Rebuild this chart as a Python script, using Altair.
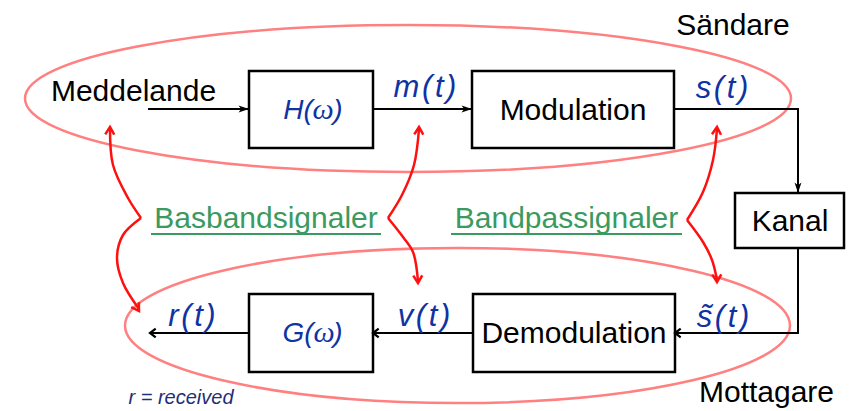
import altair as alt
import pandas as pd

# ---- coordinate frame (reference pixels) ----
W, H = 838, 395
XD = [8, 846]
YD = [8, 403]

# ---- blocks ----
box_name = ["H", "Modulation", "Kanal", "Demodulation", "G"]
box_x0 = [249, 472, 735, 473, 249]
box_x1 = [373, 674, 844, 675, 373]
box_y0 = [71, 71, 193, 294, 294]
box_y1 = [148, 148, 248, 372, 372]

# ---- wires ----
wire_x0 = [149, 373, 674, 798, 798, 798, 473, 249]
wire_y0 = [109, 109, 109, 109, 248, 333, 333, 333]
wire_x1 = [247, 470, 798, 798, 798, 677, 375, 152]
wire_y1 = [109, 109, 109, 191, 333, 333, 333, 333]

# ---- black arrowheads ----
head_x = [249, 472, 798]
head_y = [109, 109, 193]
head_ang = [0, 0, 90]
chev_x = [675, 373, 150]
chev_y = [333, 333, 333]
chev_ang = [180, 180, 180]

# ---- ellipses (Sändare / Mottagare groups) ----
ell_cx = [408, 457.5]
ell_cy = [98.5, 325.5]
ell_rx = [383, 332.5]
ell_ry = [73.5, 77.5]

# ---- red double arrows (read control points) ----
curve_id = ([0] * 4 + [1] * 5 + [2] * 4 + [3] * 4 + [4] * 4 + [5] * 4)
curve_x = [110, 113, 128, 141,
           141, 123, 117, 123, 139,
           419, 414, 402, 388,
           388, 403, 413, 418,
           717, 713, 703, 687,
           687, 703, 712, 717]
curve_y = [129, 165, 198, 218,
           218, 235, 258, 283, 309,
           129, 165, 195, 218,
           218, 237, 252, 281,
           129, 160, 192, 220,
           220, 242, 260, 280]
red_x = [110, 139, 419, 418, 717, 717]
red_y = [127, 311, 127, 283, 127, 282]
red_ang = [272, 58, 272, 88, 274, 88]

# ---- texts ----
blk_text = ["Meddelande", "Modulation", "Kanal", "Demodulation", "Sändare", "Mottagare"]
blk_x = [133.5, 573, 790, 574, 733, 766.5]
blk_y = [101, 120, 231, 343, 35, 402]

sig_text = ["m\u200a(\u200at\u200a)", "s\u200a(\u200at\u200a)", "r\u200a(\u200at\u200a)",
            "v\u200a(\u200at\u200a)", "s\u0303\u200a(\u200at\u200a)"]
sig_x = [425, 722, 192, 424, 723]
sig_y = [97, 98, 326, 326, 327]

fn_pre = ["H(", "G("]
fn_pre_x = [298, 298]
fn_om_x = [323, 324]
fn_post_x = [338, 338]
fn_y = [119, 342]

grn_text = ["Basbandsignaler", "Bandpassignaler"]
grn_x = [266, 566.5]
grn_y = [228, 228]
ul_x0 = [151, 451]
ul_x1 = [381, 682]
ul_y = [234, 234]

note_text = ["r = received"]
note_x = [181]
note_y = [404]

BLUE = "#0f33a3"
RED = "#ff1010"
PINK = "#ff8080"
GREEN = "#3a9a60"

xs = alt.Scale(domain=XD, nice=False, zero=False)
ys = alt.Scale(domain=YD, nice=False, zero=False, reverse=True)


def X(f="x"):
    return alt.X(f"{f}:Q", scale=xs, axis=None)


def Y(f="y"):
    return alt.Y(f"{f}:Q", scale=ys, axis=None)


def ellipse_path(b):
    k = 0.5523
    return (f"M -1 0 C -1 {-k*b:.4f} {-k:.4f} {-b:.4f} 0 {-b:.4f} "
            f"C {k:.4f} {-b:.4f} 1 {-k*b:.4f} 1 0 "
            f"C 1 {k*b:.4f} {k:.4f} {b:.4f} 0 {b:.4f} "
            f"C {-k:.4f} {b:.4f} -1 {k*b:.4f} -1 0 Z")


layers = []

# ellipses
for cx, cy, rx, ry in zip(ell_cx, ell_cy, ell_rx, ell_ry):
    d = pd.DataFrame({"x": [cx], "y": [cy]})
    layers.append(
        alt.Chart(d).mark_point(shape=ellipse_path(ry / rx), size=(2 * rx) ** 2,
                                filled=False, stroke=PINK, strokeWidth=2.5, opacity=1)
        .encode(x=X(), y=Y())
    )

# boxes
boxes = pd.DataFrame({"n": box_name, "x": box_x0, "x2": box_x1, "y": box_y0, "y2": box_y1})
layers.append(
    alt.Chart(boxes).mark_rect(fill="white", stroke="black", strokeWidth=2.5)
    .encode(x=X(), x2="x2", y=Y(), y2="y2")
)

# wires
wires = pd.DataFrame({"x": wire_x0, "y": wire_y0, "x2": wire_x1, "y2": wire_y1})
layers.append(
    alt.Chart(wires).mark_rule(color="black", strokeWidth=2, strokeCap="square")
    .encode(x=X(), y=Y(), x2="x2", y2="y2")
)

# black arrowheads
heads = pd.DataFrame({"x": head_x, "y": head_y, "a": head_ang})
layers.append(
    alt.Chart(heads).mark_point(shape="M -1 -0.33 L 0 0 L -1 0.33 L -0.75 0 Z",
                                size=440, filled=True, color="black", opacity=1)
    .encode(x=X(), y=Y(), angle=alt.Angle("a:Q", scale=None))
)
chev = pd.DataFrame({"x": chev_x, "y": chev_y, "a": chev_ang})
layers.append(
    alt.Chart(chev).mark_point(shape="M -1 -0.75 L 0 0 L -1 0.75",
                               size=130, filled=False, stroke="black", strokeWidth=2.2, opacity=1)
    .encode(x=X(), y=Y(), angle=alt.Angle("a:Q", scale=None))
)

# red curves
curves = pd.DataFrame({"id": curve_id, "x": curve_x, "y": curve_y,
                       "o": list(range(len(curve_x)))})
layers.append(
    alt.Chart(curves).mark_line(color=RED, strokeWidth=2.5, interpolate="catmull-rom")
    .encode(x=X(), y=Y(), detail="id:N", order="o:Q")
)
reds = pd.DataFrame({"x": red_x, "y": red_y, "a": red_ang})
layers.append(
    alt.Chart(reds).mark_point(shape="M -1 -0.6 L 0 0 L -1 0.6",
                               size=225, filled=False, stroke=RED, strokeWidth=2.5, opacity=1)
    .encode(x=X(), y=Y(), angle=alt.Angle("a:Q", scale=None))
)

# texts
FONT = "Liberation Sans"
blk = pd.DataFrame({"t": blk_text, "x": blk_x, "y": blk_y})
layers.append(
    alt.Chart(blk).mark_text(font=FONT, fontSize=30, color="black", align="center",
                             baseline="alphabetic")
    .encode(x=X(), y=Y(), text="t:N")
)
sig = pd.DataFrame({"t": sig_text, "x": sig_x, "y": sig_y})
layers.append(
    alt.Chart(sig).mark_text(font=FONT, fontSize=31, fontStyle="italic", color=BLUE,
                             align="center", baseline="alphabetic")
    .encode(x=X(), y=Y(), text="t:N")
)
fnp = pd.DataFrame({"t": fn_pre, "x": fn_pre_x, "y": fn_y})
layers.append(
    alt.Chart(fnp).mark_text(font=FONT, fontSize=28, fontStyle="italic", color=BLUE,
                             align="center", baseline="alphabetic")
    .encode(x=X(), y=Y(), text="t:N")
)
fno = pd.DataFrame({"t": ["\u03c9", "\u03c9"], "x": fn_om_x, "y": fn_y})
layers.append(
    alt.Chart(fno).mark_text(font="Liberation Serif", fontSize=30, fontStyle="italic",
                             color=BLUE, align="center", baseline="alphabetic")
    .encode(x=X(), y=Y(), text="t:N")
)
fnq = pd.DataFrame({"t": [")", ")"], "x": fn_post_x, "y": fn_y})
layers.append(
    alt.Chart(fnq).mark_text(font=FONT, fontSize=28, fontStyle="italic", color=BLUE,
                             align="center", baseline="alphabetic")
    .encode(x=X(), y=Y(), text="t:N")
)
grn = pd.DataFrame({"t": grn_text, "x": grn_x, "y": grn_y})
layers.append(
    alt.Chart(grn).mark_text(font=FONT, fontSize=30, color=GREEN, align="center",
                             baseline="alphabetic")
    .encode(x=X(), y=Y(), text="t:N")
)
ul = pd.DataFrame({"x": ul_x0, "x2": ul_x1, "y": ul_y})
layers.append(
    alt.Chart(ul).mark_rule(color=GREEN, strokeWidth=2)
    .encode(x=X(), x2="x2", y=Y())
)
note = pd.DataFrame({"t": note_text, "x": note_x, "y": note_y})
layers.append(
    alt.Chart(note).mark_text(font=FONT, fontSize=20, fontStyle="italic", color="#1c2f78",
                              align="center", baseline="alphabetic")
    .encode(x=X(), y=Y(), text="t:N")
)

chart = (
    alt.layer(*layers)
    .properties(width=W, height=H,
                padding={"left": 0, "top": 0, "right": 0, "bottom": 8},
                autosize=alt.AutoSizeParams(type="none"))
    .configure_view(stroke=None)
)

chart.save("out.html", embed_options={"renderer": "svg", "actions": False})
